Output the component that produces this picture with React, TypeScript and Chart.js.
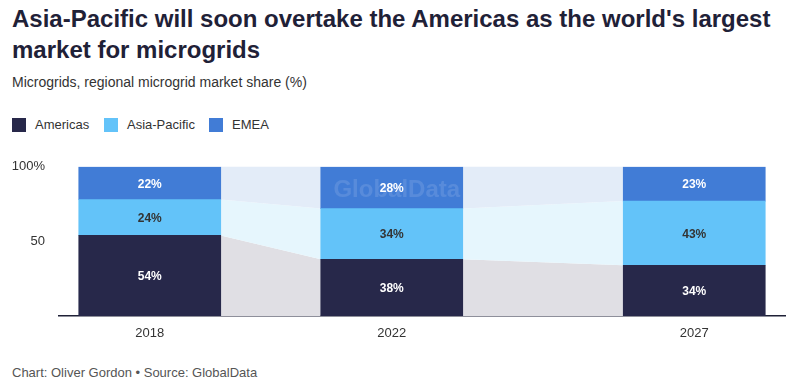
import React, { useEffect, useRef } from "react";
import { Chart, registerables } from "chart.js";

Chart.register(...registerables);

const years = [2018, 2022, 2027];
const americas = [54, 38, 34];
const asiaPacific = [24, 34, 43];
const emea = [22, 28, 23];
const yTickLabels: Record<number, string> = { 0: "", 50: "50", 100: "100%" };

const seriesNames = ["Americas", "Asia-Pacific", "EMEA"];
const barColors = ["#27284a", "#63c3f9", "#417cd6"];
const bandColors = ["#e0dfe4", "#e6f6fd", "#e3ecf8"];
const labelColors = ["#ffffff", "#333333", "#ffffff"];

const FONT = "'Liberation Sans', Arial, sans-serif";

const bandsPlugin = {
  id: "bands",
  beforeDatasetsDraw(chart: any) {
    const ctx = chart.ctx;
    ctx.save();
    chart.data.datasets.forEach((ds: any, di: number) => {
      const meta = chart.getDatasetMeta(di);
      for (let i = 0; i < meta.data.length - 1; i++) {
        const a = meta.data[i];
        const b = meta.data[i + 1];
        const ax = a.x + a.width / 2;
        const bx = b.x - b.width / 2;
        ctx.beginPath();
        ctx.moveTo(ax, a.y);
        ctx.lineTo(bx, b.y);
        ctx.lineTo(bx, b.base);
        ctx.lineTo(ax, a.base);
        ctx.closePath();
        ctx.fillStyle = bandColors[di];
        ctx.fill();
      }
    });
    ctx.restore();
  },
  afterDatasetsDraw(chart: any) {
    const ctx = chart.ctx;
    ctx.save();
    const mid = chart.getDatasetMeta(2).data[1];
    if (mid) {
      ctx.font = `bold 24px ${FONT}`;
      ctx.fillStyle = "rgba(255,255,255,0.12)";
      ctx.textAlign = "center";
      ctx.textBaseline = "middle";
      ctx.fillText("GlobalData", mid.x + 5, mid.y + 24);
    }
    chart.data.datasets.forEach((ds: any, di: number) => {
      const meta = chart.getDatasetMeta(di);
      meta.data.forEach((el: any, i: number) => {
        const v = ds.data[i].y;
        ctx.font = `bold 12px ${FONT}`;
        ctx.fillStyle = labelColors[di];
        ctx.textAlign = "center";
        ctx.textBaseline = "middle";
        ctx.fillText(`${v}%`, el.x, (el.y + el.base) / 2 + 1);
      });
    });
    ctx.restore();
  },
};

function ChartCanvas() {
  const ref = useRef<HTMLCanvasElement>(null);
  useEffect(() => {
    if (!ref.current) return;
    const series = [americas, asiaPacific, emea];
    const chart = new Chart(ref.current, {
      type: "bar",
      data: {
        datasets: series.map((vals, si) => ({
          label: seriesNames[si],
          data: years.map((yr, i) => ({ x: yr, y: vals[i] })),
          backgroundColor: barColors[si],
          borderWidth: 0,
          barThickness: 142,
        })),
      },
      options: {
        animation: false,
        responsive: false,
        maintainAspectRatio: false,
        layout: { padding: { top: 12, right: 15, left: 0, bottom: 0 } },
        plugins: { legend: { display: false }, tooltip: { enabled: false } },
        scales: {
          x: {
            type: "linear",
            stacked: true,
            offset: false,
            min: 2016.5,
            max: 2028.5,
            grid: { display: false, drawTicks: false },
            border: { display: true, color: "#1f2137", width: 1.5 },
            afterBuildTicks: (scale: any) => {
              scale.ticks = years.map((v) => ({ value: v }));
            },
            afterFit: (scale: any) => {
              scale.height = 34;
            },
            ticks: {
              autoSkip: false,
              maxRotation: 0,
              padding: 10,
              color: "#333333",
              font: { family: FONT, size: 13 },
              callback: (v: any) => String(v),
            },
          },
          y: {
            stacked: true,
            min: 0,
            max: 100,
            grid: { display: false, drawTicks: false },
            border: { display: false },
            afterBuildTicks: (scale: any) => {
              scale.ticks = [0, 50, 100].map((v) => ({ value: v }));
            },
            afterFit: (scale: any) => {
              scale.width = 59;
            },
            ticks: {
              padding: 14,
              color: "#333333",
              font: { family: FONT, size: 13 },
              callback: (v: any) => yTickLabels[v] ?? "",
            },
          },
        },
      },
      plugins: [bandsPlugin],
    });
    return () => chart.destroy();
  }, []);
  return (
    <canvas
      ref={ref}
      width={800}
      height={205}
      style={{ position: "absolute", left: 0, top: 145, width: 800, height: 205 }}
    />
  );
}

export default function App() {
  const legendItem = (i: number, left: number) => (
    <div key={i} style={{ position: "absolute", left, top: 118, display: "flex", alignItems: "center" }}>
      <div style={{ width: 14, height: 14, background: barColors[i] }} />
      <span style={{ marginLeft: 9, fontSize: 13, color: "#333", lineHeight: "14px" }}>{seriesNames[i]}</span>
    </div>
  );
  return (
    <div
      style={{
        position: "absolute",
        left: 0,
        top: 0,
        width: 800,
        height: 391,
        background: "#fff",
        fontFamily: FONT,
        overflow: "hidden",
      }}
    >
      <div
        style={{
          position: "absolute",
          left: 12,
          top: 3,
          width: 790,
          fontSize: 24,
          fontWeight: 700,
          lineHeight: "31px",
          color: "#1f2137",
        }}
      >
        Asia-Pacific will soon overtake the Americas as the world's largest market for microgrids
      </div>
      <div style={{ position: "absolute", left: 12, top: 74, fontSize: 14, color: "#333" }}>
        Microgrids, regional microgrid market share (%)
      </div>
      {legendItem(0, 12)}
      {legendItem(1, 104)}
      {legendItem(2, 209)}
      <ChartCanvas />
      <div style={{ position: "absolute", left: 12, top: 365, fontSize: 13, color: "#555" }}>
        Chart: Oliver Gordon • Source: GlobalData
      </div>
    </div>
  );
}
